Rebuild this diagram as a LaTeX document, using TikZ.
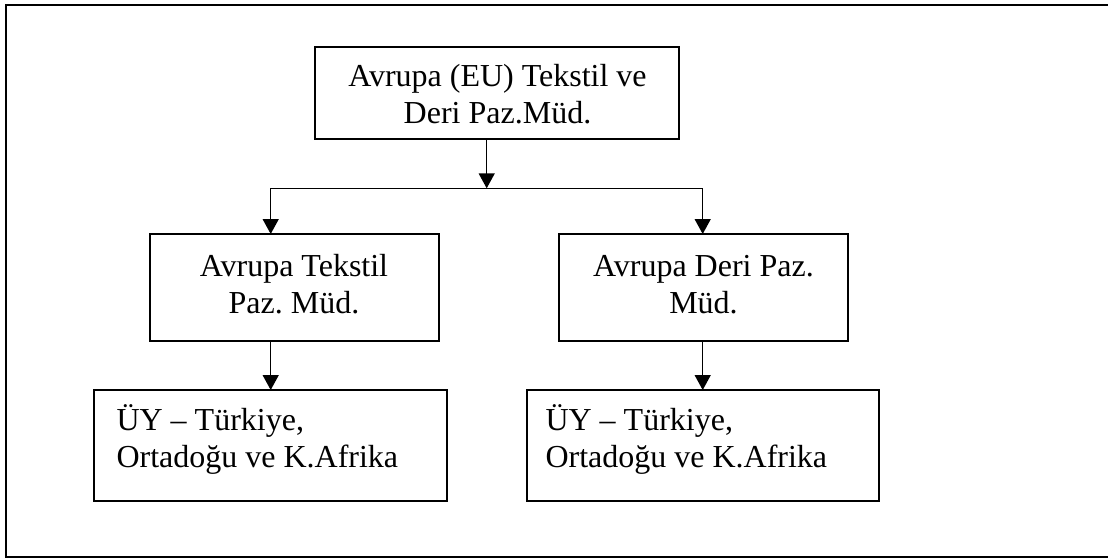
\documentclass[tikz,border=0pt]{standalone}
\usepackage{fontspec}
\setmainfont{Liberation Serif}
\usetikzlibrary{arrows.meta}
\frenchspacing

\begin{document}
\begin{tikzpicture}[x=1pt,y=-1pt,
  box/.style={draw,line width=1.5pt,inner sep=0pt,outer sep=0pt},
  label/.style={inner sep=0pt,outer sep=0pt,anchor=north,
    font=\fontsize{32}{36.8}\selectfont},
  conn/.style={line width=1.5pt},
  arr/.style={conn,-{Triangle[length=15pt,width=16pt]}}]
  \useasboundingbox (0,0) rectangle (1108,558);
  \clip (0,0) rectangle (1108,558);

  % outer frame
  \draw[line width=2.4pt] (6,5) rectangle (1112,557);

  % boxes
  \node[box,minimum width=364pt,minimum height=92pt] (topbox) at (497,93) {};
  \node[box,minimum width=289pt,minimum height=107pt] (ml) at (294.5,287.5) {};
  \node[box,minimum width=289pt,minimum height=107pt] (mr) at (703.5,287.5) {};
  \node[box,minimum width=353pt,minimum height=111pt] (bl) at (270.5,445.5) {};
  \node[box,minimum width=352pt,minimum height=111pt] (br) at (703,445.5) {};

  % texts (first baseline placed via the strut height)
  \node[label,align=center] (ttop) at (497.5,86.7-25.76)
    {\strut Avrupa (EU) Tekstil ve\\Deri Paz.Müd.};
  \node[label,align=center] (tml) at (294,276.3-25.76)
    {\strut Avrupa Tekstil\\Paz. Müd.};
  \node[label,align=center] (tmr) at (703.5,276.3-25.76)
    {\strut Avrupa Deri Paz.\\Müd.};
  \node[label,align=left,anchor=north west] (tbl) at (116.5,430.7-25.76)
    {\strut ÜY – Türkiye,\\Ortadoğu ve K.Afrika};
  \node[label,align=left,anchor=north west] (tbr) at (545.5,430.7-25.76)
    {\strut ÜY – Türkiye,\\Ortadoğu ve K.Afrika};

  % connectors
  \coordinate (j) at (486.7,188.3);
  \coordinate (jl) at (270.7,188.3);
  \coordinate (jr) at (702.7,188.3);
  \draw[arr] (topbox.south -| j) -- (j);
  \draw[conn] (jl) -- (jr);
  \draw[arr] (jl) -- (ml.north -| jl);
  \draw[arr] (jr) -- (mr.north -| jr);
  \draw[arr] (ml.south -| jl) -- (bl.north -| jl);
  \draw[arr] (mr.south -| jr) -- (br.north -| jr);
\end{tikzpicture}
\end{document}
